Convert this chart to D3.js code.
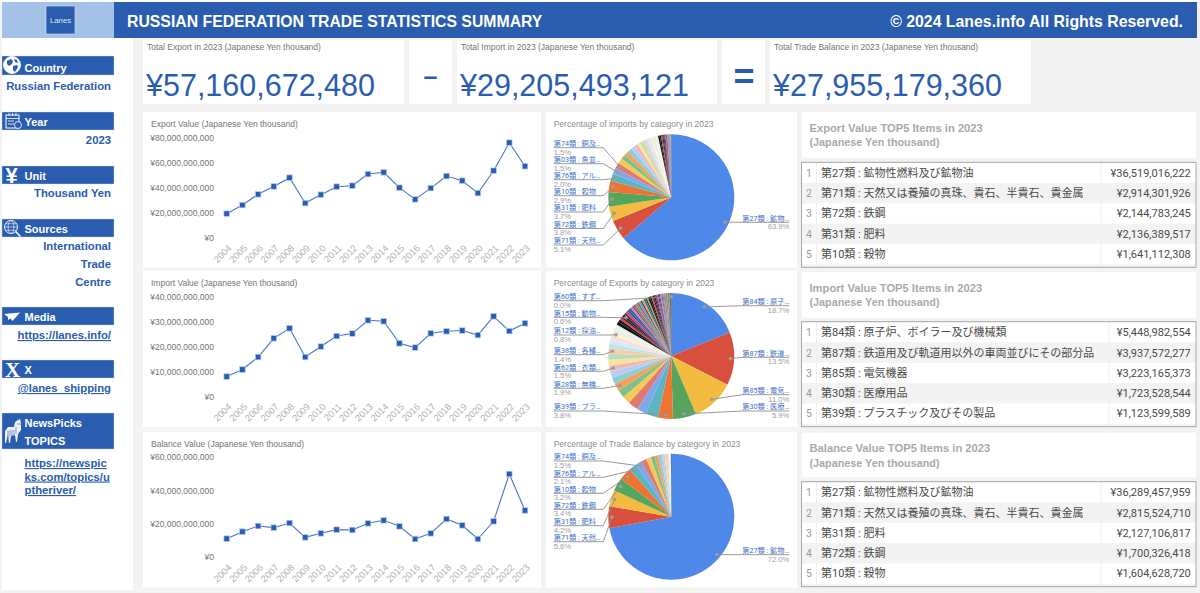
<!DOCTYPE html>
<html>
<head>
<meta charset="utf-8">
<script src="https://cdnjs.cloudflare.com/ajax/libs/d3/7.8.5/d3.min.js"></script>
<style>
html, body { margin: 0; padding: 0; background: #f3f3f3; overflow: hidden; }
svg { display: block; }
text { font-family: "Liberation Sans", Arial, sans-serif; }
.cjk { font-family: Roboto, "Noto Sans CJK JP", sans-serif; }
</style>
</head>
<body>
<svg id="board" width="1200" height="593"></svg>
<script>
// DATA
const years = ["2004","2005","2006","2007","2008","2009","2010","2011","2012","2013","2014","2015","2016","2017","2018","2019","2020","2021","2022","2023"];

const exportValues = [19200000000,26100000000,34700000000,41000000000,48000000000,27700000000,34400000000,40800000000,41600000000,50900000000,52300000000,40000000000,30700000000,39700000000,49300000000,45600000000,35700000000,53600000000,76000000000,57160672480];
const importValues = [7900000000,10700000000,15700000000,23200000000,27200000000,15700000000,19900000000,24100000000,25100000000,30400000000,30000000000,21200000000,19500000000,25200000000,26000000000,26300000000,24500000000,32000000000,26100000000,29205493121];
const balanceValues = [11000000000,15200000000,18600000000,17600000000,20400000000,11800000000,14200000000,16400000000,16200000000,20200000000,22000000000,18400000000,10800000000,14200000000,22800000000,19000000000,10800000000,21400000000,49800000000,27955179360];

const exportTicks = [0,20000000000,40000000000,60000000000,80000000000];
const importTicks = [0,10000000000,20000000000,30000000000,40000000000];
const balanceTicks = [0,20000000000,40000000000,60000000000];

const kpiTitles = ["Total Export in 2023 (Japanese Yen thousand)","Total Import in 2023 (Japanese Yen thousand)","Total Trade Balance in 2023 (Japanese Yen thousand)"];
const kpiValues = [57160672480,29205493121,27955179360];

const pieOneShares = [63.9,5.1,3.8,3.7,2.9,2.0,1.5,1.5,1.4,1.2,1.2,1.1,1.0,0.9,0.8,0.7,0.6,0.6,0.5,0.5,0.5,0.5,0.4,0.55,0.4,0.35,0.3,0.3,0.25,0.25,0.2,0.2,0.15,0.15,0.15,0.1,0.1,0.1,0.1,0.1,0.1,0.05,0.05];
const pieOneNames = ["第74類 : 銅及…","第03類 : 魚並…","第76類 : アル…","第10類 : 穀物","第31類 : 肥料","第72類 : 鉄鋼","第71類 : 天然…","第27類 : 鉱物…"];
const pieOneSlices = [7,6,5,4,3,2,1,0];

const pieTwoShares = [18.7,13.5,11.0,5.9,3.8,3.2,2.4,2.6,2.0,2.0,1.9,1.7,1.6,1.5,1.5,1.5,1.4,1.2,1.1,1.1,0.8,0.7,0.7,0.7,0.8,0.7,0.5,0.5,0.6,0.6,0.6,0.55,0.55,0.5,0.5,0.5,0.5,0.5,0.5,0.45,0.45,0.45,0.4,0.4,0.4,0.4,0.35,0.35,0.35,0.35,0.3,0.3,0.3,0.3,0.3,0.25,0.25,0.25,0.25,0.2,0.2,0.2,0.15,0.15,0.1,0.1,0.05,0.05,0.03,0.02];
const pieTwoNames = ["第60類 : すず…","第15類 : 動物…","第12類 : 採油…","第38類 : 各種…","第62類 : 衣類…","第28類 : 無機…","第39類 : プラ…","第84類 : 原子…","第87類 : 鉄道…","第85類 : 電気…","第30類 : 医療…"];
const pieTwoSlices = [69,28,20,16,13,10,4,0,1,2,3];

const pieThreeShares = [72.0,5.6,4.2,3.4,3.2,2.1,1.5,1.4,1.2,1.0,0.9,0.7,0.6,0.4,0.3,0.3,0.2,0.2,0.2,0.1,0.1,0.1,0.05,0.05,0.05,0.05];
const pieThreeNames = ["第74類 : 銅及…","第76類 : アル…","第10類 : 穀物","第72類 : 鉄鋼","第31類 : 肥料","第71類 : 天然…","第27類 : 鉱物…"];
const pieThreeSlices = [6,5,4,3,2,1,0];

const exportRanks = ["第27類 : 鉱物性燃料及び鉱物油","第71類 : 天然又は養殖の真珠、貴石、半貴石、貴金属","第72類 : 鉄鋼","第31類 : 肥料","第10類 : 穀物"];
const exportRankValues = [36519016222,2914301926,2144783245,2136389517,1641112308];
const importRanks = ["第84類 : 原子炉、ボイラー及び機械類","第87類 : 鉄道用及び軌道用以外の車両並びにその部分品","第85類 : 電気機器","第30類 : 医療用品","第39類 : プラスチック及びその製品"];
const importRankValues = [5448982554,3937572277,3223165373,1723528544,1123599589];
const balanceRanks = ["第27類 : 鉱物性燃料及び鉱物油","第71類 : 天然又は養殖の真珠、貴石、半貴石、貴金属","第31類 : 肥料","第72類 : 鉄鋼","第10類 : 穀物"];
const balanceRankValues = [36289457959,2815524710,2127106817,1700326418,1604628720];

// COLORS
const BLUE = "#2a5db0";
const LIGHT_BLUE = "#a4c2e8";
const GREY_TEXT = "#757575";
const AXIS_TEXT = "#b2b2b2";
const sliceColors = ["#4e88e8","#d94f3e","#f3bc40","#55a55e","#ee7231","#5ab7c2","#7fa8ee","#e0796f","#f6ca55","#7dc08a","#f3a25c","#8bced6","#b5cdf6","#f2b9b3","#fbe39c","#b8dcbf","#f9cda6","#bee5e9","#dbe7fb","#f9dedb","#fdf3cf","#dff0e2","#fdeadb","#e2f4f6",
  "#0e0e0e","#101c2e","#ee3b3b","#3a2a12","#1d2c4a","#7a2d50","#d2488e","#1b6c80","#2b5fb4","#e07ab0","#a24c92","#4b9b60","#d0843a","#8a5ac0","#50b0c0","#7a4a20","#e09ab0","#2a8a50","#304080","#c0a040"];

const svg = d3.select("#board");
const yen = d3.format(",");
const yenText = v => "¥" + yen(v);

function card(x, y, w, h, fill) {
    svg.append("rect").attr("x", x).attr("y", y).attr("width", w).attr("height", h).attr("fill", fill || "#fff");
}

function put(parent, str, x, y, size, color, opts) {
    const o = opts || {};
    return parent.append("text").attr("x", x).attr("y", y)
        .attr("font-size", size).attr("fill", color)
        .attr("text-anchor", o.anchor || "start")
        .attr("font-weight", o.weight || "normal")
        .attr("class", o.cls || null)
        .text(str);
}

// 1. HEADER
function drawHeader() {
    svg.append("rect").attr("width", 1200).attr("height", 2).attr("fill", "#fff");
    card(2, 2, 112, 36, LIGHT_BLUE);
    card(114, 2, 1083, 36, BLUE);
    svg.append("rect").attr("x", 46).attr("y", 6).attr("width", 29).attr("height", 28)
        .attr("fill", BLUE).attr("stroke", "#c5d8f0").attr("stroke-width", 0.7);
    put(svg, "Lanes", 60.5, 23, 7.8, "#dfe9f7", { anchor: "middle" });
    put(svg, "RUSSIAN FEDERATION TRADE STATISTICS SUMMARY", 127, 27, 15.8, "#fff", { weight: "bold" });
    put(svg, "© 2024 Lanes.info All Rights Reserved.", 1183, 27, 15.85, "#fff", { weight: "bold", anchor: "end" });
}

// 2. SIDEBAR
function drawGlobe(g, cx, cy, r, withLens) {
    g.append("circle").attr("cx", cx).attr("cy", cy).attr("r", r).attr("fill", withLens ? BLUE : "#fff").attr("stroke", "#fff").attr("stroke-width", 0.9);
    if (withLens) {
        g.append("ellipse").attr("cx", cx).attr("cy", cy).attr("rx", r * 0.45).attr("ry", r).attr("fill", "none").attr("stroke", "#fff").attr("stroke-width", 0.6);
        g.append("path").attr("d", `M${cx - r} ${cy}H${cx + r}M${cx - r * 0.85} ${cy - r * 0.5}H${cx + r * 0.85}M${cx - r * 0.85} ${cy + r * 0.5}H${cx + r * 0.85}`).attr("stroke", "#fff").attr("stroke-width", 0.6);
        g.append("path").attr("d", `M${cx + r * 0.7} ${cy + r * 0.7}L${cx + r + 3} ${cy + r + 3}`).attr("stroke", "#fff").attr("stroke-width", 1.6);
    } else {
        g.append("path").attr("fill", BLUE).attr("d", `M${cx - 5} ${cy - 4}l4 -2l2 2l-1 3l-3 2l-2 -2zM${cx + 1} ${cy + 1}l4 -1l1 2l-3 5l-2 -2zM${cx + 2} ${cy - 6}l3 1l1 3l-3 -1z`);
    }
}

function drawSidebar() {
    card(2, 38, 131, 552);
    const bar = (y, h) => svg.append("rect").attr("x", 2).attr("y", y).attr("width", 112).attr("height", h).attr("fill", BLUE).attr("stroke", "#cfdcf0").attr("stroke-width", 0.4);
    const head = (str, y) => put(svg, str, 24.5, y, 11, "#fff", { weight: "bold" });
    const val = (str, y) => put(svg, str, 111, y, 11.3, BLUE, { weight: "bold", anchor: "end" });
    const link = (str, x, y, anchor) => put(svg, str, x, y, 11.3, BLUE, { weight: "bold", anchor: anchor }).attr("text-decoration", "underline");

    bar(56, 19); head("Country", 72); val("Russian Federation", 90);
    drawGlobe(svg, 12, 65, 8.5, false);

    bar(112, 18); head("Year", 126); val("2023", 144);
    svg.append("rect").attr("x", 6).attr("y", 115).attr("width", 13).attr("height", 13).attr("fill", "none").attr("stroke", "#fff").attr("stroke-width", 1);
    svg.append("path").attr("d", "M6 118.5H19M9 113V116M12.5 113V116M16 113V116M8 121H14M8 124H14").attr("stroke", "#fff").attr("stroke-width", 0.8);
    svg.append("circle").attr("cx", 18).attr("cy", 125).attr("r", 3.5).attr("fill", BLUE).attr("stroke", "#fff").attr("stroke-width", 0.8);

    bar(166, 18); head("Unit", 180); val("Thousand Yen", 197);
    put(svg, "¥", 11.5, 183, 22, "#fff", { weight: "bold", anchor: "middle" });

    bar(219, 18); head("Sources", 233); val("International", 250); val("Trade", 268); val("Centre", 286);
    drawGlobe(svg, 11, 227, 6.5, true);

    bar(307, 18); head("Media", 321); link("https://lanes.info/", 111, 339, "end");
    svg.append("path").attr("fill", "#fff").attr("d", "M4 314L20 312.5L12.5 321L10.5 318.5L8 320V317z");

    bar(360, 18); head("X", 374); link("@lanes_shipping", 111, 392, "end");
    svg.append("text").attr("x", 12.5).attr("y", 377).attr("font-size", 21).attr("font-weight", "bold").attr("fill", "#fff")
        .attr("text-anchor", "middle").style("font-family", '"Liberation Serif", serif').text("X");

    bar(413, 36); head("NewsPicks", 427); head("TOPICS", 445);
    // zebra
    svg.append("path").attr("fill", "#eef2f8").attr("d", "M18 420l2 -1l1 4v7l-3 4l-1 8h-1l-1 -7l-4 1l-1 7h-1l-1 -8l-2 8h-1l0 -12l3 -4l6 0l1 -5z");
    svg.append("path").attr("stroke", BLUE).attr("stroke-width", 0.6).attr("d", "M8 431v8M10 430v6M12 430v6M14 430v5M16 427v7M17 424h4");

    ["https://newspic", "ks.com/topics/u", "ptheriver/"].forEach((s, i) => link(s, 24.5, [467, 480.5, 494][i], "start"));
}

// 3. KPI CARDS
function drawKpis() {
    const xs = [143, 457, 770];
    const widths = [261, 260, 261];
    xs.forEach((x, i) => {
        card(x, 40, widths[i], 64);
        put(svg, kpiTitles[i], x + 4, 50, 8.5, GREY_TEXT);
        put(svg, yenText(kpiValues[i]), x + 3, 96, 30.5, BLUE);
    });
    card(409, 40, 43, 64);
    card(722, 40, 43, 64);
    put(svg, "–", 430.5, 85, 25, BLUE, { anchor: "middle", weight: "bold" });
    put(svg, "=", 744, 89, 36, BLUE, { anchor: "middle", weight: "bold" });
}

// 4. LINE CHARTS
function drawLine(title, values, ticks, top, cardTop, cardH) {
    card(143, cardTop, 398, cardH);
    put(svg, title, 151, cardTop + 15, 8.5, GREY_TEXT);

    const x = d3.scalePoint().domain(years).range([226.7, 525]);
    const y = d3.scaleLinear().domain([0, d3.max(ticks)]).range([top + 100, top]);

    const yAxis = svg.append("g").attr("transform", "translate(214,0)")
        .call(d3.axisLeft(y).tickValues(ticks).tickSize(0).tickPadding(0).tickFormat(yenText));
    yAxis.select(".domain").remove();
    yAxis.selectAll("text").attr("font-size", 8.5).attr("fill", GREY_TEXT).attr("font-family", '"Liberation Sans", Arial, sans-serif');

    const xAxis = svg.append("g").attr("transform", `translate(0,${top + 100})`)
        .call(d3.axisBottom(x).tickSize(0).tickPadding(0));
    xAxis.select(".domain").remove();
    xAxis.selectAll("text")
        .attr("font-size", 9.4).attr("fill", AXIS_TEXT).attr("font-family", '"Liberation Sans", Arial, sans-serif')
        .attr("text-anchor", "end").attr("dy", 0).attr("y", 0)
        .attr("transform", "translate(5,11) rotate(-45)");

    svg.append("path").datum(values)
        .attr("fill", "none").attr("stroke", "#4377c9").attr("stroke-width", 1.1)
        .attr("d", d3.line().x((d, i) => x(years[i])).y(d => y(d)));

    svg.append("g").selectAll("rect").data(values).join("rect")
        .attr("x", (d, i) => x(years[i]) - 2.8).attr("y", d => y(d) - 2.8)
        .attr("width", 5.6).attr("height", 5.6)
        .attr("fill", BLUE).attr("stroke", "#bcd0ee").attr("stroke-width", 0.7);
}

// 5. PIE CHARTS
function drawPie(title, shares, names, sliceIdx, leaderY, cy, cardTop, cardH) {
    card(546, cardTop, 251, cardH);
    put(svg, title, 553.7, cardTop + 15, 8.5, "#8d8d8d");

    const r = 63, cx = 671.3;
    const arcs = d3.pie().sort(null).value(d => d)(shares);
    const arc = d3.arc().innerRadius(0).outerRadius(r);
    const g = svg.append("g").attr("transform", `translate(${cx},${cy})`);
    g.selectAll("path").data(arcs).join("path")
        .attr("d", arc)
        .attr("fill", (d, i) => sliceColors[i < sliceColors.length ? i : 24 + ((i - 24) % (sliceColors.length - 24))]);

    names.forEach((name, i) => {
        const a = arcs[sliceIdx[i]];
        const mid = (a.startAngle + a.endAngle) / 2;
        const dotX = cx + Math.sin(mid) * r * 0.94;
        const dotY = cy - Math.cos(mid) * r * 0.94;
        const onLeft = mid > Math.PI;
        const ly = leaderY[i];
        const linePts = onLeft
            ? [[553.7, ly], [603.3, ly], [dotX, dotY]]
            : [[789.3, ly], [742.7, ly], [dotX, dotY]];
        svg.append("path").attr("d", d3.line()(linePts)).attr("fill", "none").attr("stroke", "#8f8f8f").attr("stroke-width", 0.9);
        svg.append("circle").attr("cx", dotX).attr("cy", dotY).attr("r", 1.8).attr("fill", "#9e9e9e");
        const tx = onLeft ? 553.7 : 789.3;
        const anchor = onLeft ? "start" : "end";
        put(svg, name, tx, ly - 1.8, 7.2, "#3f73c8", { anchor: anchor, cls: "cjk" });
        put(svg, d3.format(".1f")(a.value) + "%", tx, ly + 6.9, 7.6, "#9e9e9e", { anchor: anchor });
    });
}

// 6. TOP5 TABLES
function drawTable(titleLine, names, values, cardTop, cardH, tableTop, nameColEnd) {
    card(802, cardTop, 394, cardH);
    put(svg, titleLine, 809.5, cardTop + 19.5, 11.2, "#a9a9a9", { weight: "bold" });
    put(svg, "(Japanese Yen thousand)", 809.5, cardTop + 34, 10.8, "#a9a9a9", { weight: "bold" });

    const rowH = 20.3;
    const y = d3.scaleBand().domain(d3.range(5)).range([tableTop + 0.6, tableTop + 0.6 + rowH * 5]);
    const t = svg.append("g");
    t.selectAll("rect").data(names).join("rect")
        .attr("x", 802).attr("width", 394)
        .attr("y", (d, i) => y(i)).attr("height", rowH)
        .attr("fill", (d, i) => i % 2 ? "#f3f3f3" : "#fff");
    t.append("path").attr("d", `M816.5 ${tableTop}V${tableTop + 104}M${nameColEnd} ${tableTop}V${tableTop + 104}`).attr("stroke", "#eee").attr("stroke-width", 1);
    names.forEach((name, i) => {
        const base = y(i) + rowH / 2 + 3.8;
        put(t, i + 1, 809, base, 10.4, "#9a9a9a", { anchor: "middle", cls: "cjk" });
        put(t, name, 821, base, 11, "#4a4a4a", { cls: "cjk" });
        put(t, yenText(values[i]), 1190.8, base, 11, "#4a4a4a", { anchor: "end", cls: "cjk" });
    });
    svg.append("rect").attr("x", 801.5).attr("y", tableTop).attr("width", 394.5).attr("height", 105)
        .attr("fill", "none").attr("stroke", "#9f9f9f").attr("stroke-width", 0.9);
}

drawHeader();
drawSidebar();
drawKpis();

drawLine("Export Value (Japanese Yen thousand)", exportValues, exportTicks, 137.7, 112, 155.5);
drawLine("Import Value (Japanese Yen thousand)", importValues, importTicks, 296.3, 271, 156);
drawLine("Balance Value (Japanese Yen thousand)", balanceValues, balanceTicks, 457, 432, 155.5);

drawPie("Percentage of imports by category in 2023", pieOneShares, pieOneNames, pieOneSlices, [147.7,163.7,179.7,195.7,212,228.5,245,222.3], 197.3, 112, 155.5);
drawPie("Percentage of Exports by category in 2023", pieTwoShares, pieTwoNames, pieTwoSlices, [300.7,317.3,335,354.7,371.3,388.3,411,305.7,357.3,394.7,411], 356, 271, 156);
drawPie("Percentage of Trade Balance by category in 2023", pieThreeShares, pieThreeNames, pieThreeSlices, [461,477.3,493.3,509.3,525.7,541.7,554.7], 516.7, 432, 155.5);

drawTable("Export Value TOP5 Items in 2023", exportRanks, exportRankValues, 112, 45.7, 162.3, 1101);
drawTable("Import Value TOP5 Items in 2023", importRanks, importRankValues, 272.3, 45.4, 321.7, 1109);
drawTable("Balance Value TOP5 Items in 2023", balanceRanks, balanceRankValues, 432.7, 44.6, 481.7, 1101);
</script>
</body>
</html>
